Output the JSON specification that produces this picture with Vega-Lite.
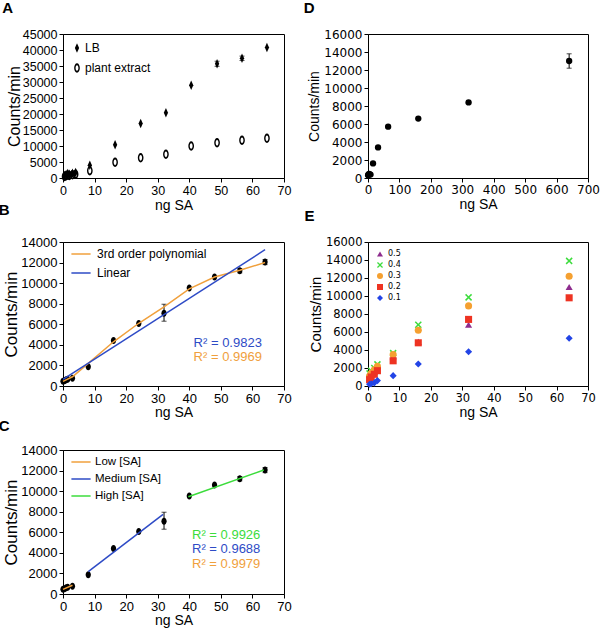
{
  "$schema": "https://vega.github.io/schema/vega-lite/v6.json",
  "padding": {"left": -2, "top": 0, "right": 5, "bottom": 5},
  "background": "white",
  "bounds": "flush",
  "columns": 2,
  "spacing": {"row": 64, "column": 84},
  "resolve": {"scale": {"color": "independent", "shape": "independent", "x": "independent", "y": "independent"}, "legend": {"color": "independent", "shape": "independent"}},
  "config": {
    "view": {"stroke": "black", "strokeWidth": 1},
    "scale": {"continuousPadding": 0},
    "axis": {"grid": false, "domainColor": "black", "tickColor": "black", "labelColor": "black", "titleColor": "black", "titleFontWeight": "normal", "labelFont": "Liberation Sans", "titleFont": "Liberation Sans", "tickSize": 4, "labelPadding": 2, "labelFlush": false, "labelOverlap": false},
    "title": {"anchor": "start", "frame": "bounds", "font": "Liberation Sans", "fontSize": 15, "fontWeight": "bold", "color": "black", "dx": -4},
    "legend": {"orient": "top-left", "title": null, "padding": 0, "labelFont": "Liberation Sans", "labelColor": "black"}
  },
  "concat": [
    {
      "width": 221, "height": 144,
      "title": {"text": "A", "offset": 12},
      "data": {"values": [
        {"g": "LB", "x": 0.5, "y": 800}, {"g": "LB", "x": 1, "y": 1100}, {"g": "LB", "x": 1.5, "y": 1400}, {"g": "LB", "x": 2, "y": 1200}, {"g": "LB", "x": 3, "y": 1500}, {"g": "LB", "x": 4, "y": 1700},
        {"g": "LB", "x": 8.5, "y": 4000}, {"g": "LB", "x": 16.5, "y": 10400}, {"g": "LB", "x": 24.6, "y": 17000}, {"g": "LB", "x": 32.6, "y": 20400}, {"g": "LB", "x": 40.6, "y": 29000}, {"g": "LB", "x": 48.8, "y": 35700, "lo": 34900, "hi": 36500}, {"g": "LB", "x": 56.7, "y": 37400, "lo": 36700, "hi": 38100}, {"g": "LB", "x": 64.6, "y": 40800},
        {"g": "plant extract", "x": 0.5, "y": 500}, {"g": "plant extract", "x": 1, "y": 700}, {"g": "plant extract", "x": 1.5, "y": 900}, {"g": "plant extract", "x": 2, "y": 800}, {"g": "plant extract", "x": 3, "y": 1000}, {"g": "plant extract", "x": 4, "y": 1200},
        {"g": "plant extract", "x": 8.5, "y": 2300}, {"g": "plant extract", "x": 16.5, "y": 4900}, {"g": "plant extract", "x": 24.6, "y": 6300}, {"g": "plant extract", "x": 32.6, "y": 7400}, {"g": "plant extract", "x": 40.6, "y": 10000}, {"g": "plant extract", "x": 48.8, "y": 11000}, {"g": "plant extract", "x": 56.7, "y": 11800}, {"g": "plant extract", "x": 64.6, "y": 12400}
      ]},
      "layer": [
        {
          "transform": [{"filter": "datum.lo != null"}],
          "mark": {"type": "errorbar", "ticks": true, "color": "black"},
          "encoding": {
            "x": {"field": "x", "type": "quantitative", "scale": {"domain": [0, 70]}, "axis": {"title": "ng SA", "values": [0,10,20,30,40,50,60,70], "labelFontSize": 12.5, "titleFontSize": 14, "titlePadding": 2}},
            "y": {"field": "lo", "type": "quantitative", "scale": {"domain": [0, 45000]}, "axis": {"title": "Counts/min", "format": "d", "values": [0,5000,10000,15000,20000,25000,30000,35000,40000,45000], "labelFontSize": 12.5, "titleFontSize": 16, "titlePadding": 0}},
            "y2": {"field": "hi"}
          }
        },
        {
          "mark": {"type": "point", "filled": true, "color": "black", "opacity": 1, "size": 90},
          "encoding": {
            "x": {"field": "x", "type": "quantitative", "scale": {"domain": [0, 70]}, "axis": {"title": "ng SA", "values": [0,10,20,30,40,50,60,70], "labelFontSize": 12.5, "titleFontSize": 14, "titlePadding": 2}},
            "y": {"field": "y", "type": "quantitative", "scale": {"domain": [0, 45000]}, "axis": {"title": "Counts/min", "format": "d", "values": [0,5000,10000,15000,20000,25000,30000,35000,40000,45000], "labelFontSize": 12.5, "titleFontSize": 16, "titlePadding": 0}},
            "shape": {"field": "g", "type": "nominal", "scale": {"domain": ["LB", "plant extract"], "range": ["M0,-1L0.45,0L0,1L-0.45,0Z", "M0,-1A0.6,1 0 1,1 0,1A0.6,1 0 1,1 0,-1ZM0,-0.6A0.3,0.6 0 1,0 0,0.6A0.3,0.6 0 1,0 0,-0.6Z"]}, "legend": {"labelFontSize": 12, "symbolSize": 90, "offset": 8, "rowPadding": 4, "labelOffset": 2, "symbolFillColor": "black", "symbolStrokeColor": "black"}}
          }
        }
      ]
    },
    {
      "width": 220, "height": 144,
      "title": {"text": "D", "offset": 12},
      "data": {"values": [
        {"x": 0.5, "y": 300}, {"x": 1, "y": 350}, {"x": 2, "y": 400}, {"x": 4, "y": 450}, {"x": 8, "y": 380},
        {"x": 16, "y": 1620}, {"x": 32, "y": 3400}, {"x": 64, "y": 5700}, {"x": 160, "y": 6600}, {"x": 320, "y": 8400}, {"x": 640, "y": 13000, "lo": 12200, "hi": 13800}
      ]},
      "layer": [
        {
          "transform": [{"filter": "datum.lo != null"}],
          "mark": {"type": "errorbar", "ticks": true, "color": "black"},
          "encoding": {
            "x": {"field": "x", "type": "quantitative", "scale": {"domain": [0, 700]}, "axis": {"title": "ng SA", "values": [0,100,200,300,400,500,600,700], "labelFont": "DejaVu Sans", "labelFontSize": 12, "titleFontSize": 14, "titlePadding": 2}},
            "y": {"field": "lo", "type": "quantitative", "scale": {"domain": [0, 16000]}, "axis": {"title": "Counts/min", "format": "d", "values": [0,2000,4000,6000,8000,10000,12000,14000,16000], "labelFont": "DejaVu Sans", "labelFontSize": 12, "titleFontSize": 14, "titlePadding": 2}},
            "y2": {"field": "hi"}
          }
        },
        {
          "mark": {"type": "circle", "color": "black", "opacity": 1, "size": 40},
          "encoding": {
            "x": {"field": "x", "type": "quantitative", "scale": {"domain": [0, 700]}, "axis": {"title": "ng SA", "values": [0,100,200,300,400,500,600,700], "labelFont": "DejaVu Sans", "labelFontSize": 12, "titleFontSize": 14, "titlePadding": 2}},
            "y": {"field": "y", "type": "quantitative", "scale": {"domain": [0, 16000]}, "axis": {"title": "Counts/min", "format": "d", "values": [0,2000,4000,6000,8000,10000,12000,14000,16000], "labelFont": "DejaVu Sans", "labelFontSize": 12, "titleFontSize": 14, "titlePadding": 2}}
          }
        }
      ]
    },
    {
      "width": 221, "height": 144,
      "title": {"text": "B", "offset": 18},
      "layer": [
        {
          "data": {"values": [
            {"x": 0, "y": 450}, {"x": 0.5, "y": 500}, {"x": 1, "y": 600}, {"x": 1.5, "y": 650}, {"x": 3, "y": 750},
            {"x": 8, "y": 1880}, {"x": 16, "y": 4420}, {"x": 24, "y": 6070}, {"x": 32, "y": 7080, "lo": 6300, "hi": 7950}, {"x": 40, "y": 9520}, {"x": 48, "y": 10590}, {"x": 56, "y": 11210, "lo": 11000, "hi": 11420}, {"x": 64, "y": 12050, "lo": 11800, "hi": 12300}
          ]},
          "layer": [
            {
              "transform": [{"filter": "datum.lo != null"}],
              "mark": {"type": "errorbar", "ticks": true, "color": "black"},
              "encoding": {
                "x": {"field": "x", "type": "quantitative", "scale": {"domain": [0, 70]}, "axis": {"title": "ng SA", "values": [0,10,20,30,40,50,60,70], "labelFontSize": 13, "titleFontSize": 14, "titlePadding": 0}},
                "y": {"field": "lo", "type": "quantitative", "scale": {"domain": [0, 14000]}, "axis": {"title": "Counts/min", "format": "d", "values": [0,2000,4000,6000,8000,10000,12000,14000], "labelFontSize": 13, "titleFontSize": 17, "titlePadding": 0}},
                "y2": {"field": "hi"}
              }
            },
            {
              "mark": {"type": "point", "filled": true, "color": "black", "opacity": 1, "size": 49, "shape": "M0,-1A0.75,1 0 1,1 0,1A0.75,1 0 1,1 0,-1Z"},
              "encoding": {
                "x": {"field": "x", "type": "quantitative", "scale": {"domain": [0, 70]}, "axis": {"title": "ng SA", "values": [0,10,20,30,40,50,60,70], "labelFontSize": 13, "titleFontSize": 14, "titlePadding": 0}},
                "y": {"field": "y", "type": "quantitative", "scale": {"domain": [0, 14000]}, "axis": {"title": "Counts/min", "format": "d", "values": [0,2000,4000,6000,8000,10000,12000,14000], "labelFontSize": 13, "titleFontSize": 17, "titlePadding": 0}}
              }
            }
          ]
        },
        {
          "data": {"values": [
            {"s": "3rd order polynomial", "x": 0, "y": 450}, {"s": "3rd order polynomial", "x": 3, "y": 900}, {"s": "3rd order polynomial", "x": 8, "y": 2200}, {"s": "3rd order polynomial", "x": 16, "y": 4300}, {"s": "3rd order polynomial", "x": 24, "y": 6100}, {"s": "3rd order polynomial", "x": 32, "y": 7700}, {"s": "3rd order polynomial", "x": 40, "y": 9450}, {"s": "3rd order polynomial", "x": 48, "y": 10600}, {"s": "3rd order polynomial", "x": 56, "y": 11250}, {"s": "3rd order polynomial", "x": 64, "y": 12000},
            {"s": "Linear", "x": 0, "y": 650}, {"s": "Linear", "x": 64, "y": 13250}
          ]},
          "mark": {"type": "line", "strokeWidth": 1.5},
          "encoding": {
            "x": {"field": "x", "type": "quantitative", "scale": {"domain": [0, 70]}, "axis": {"title": "ng SA", "values": [0,10,20,30,40,50,60,70], "labelFontSize": 13, "titleFontSize": 14, "titlePadding": 0}},
            "y": {"field": "y", "type": "quantitative", "scale": {"domain": [0, 14000]}, "axis": {"title": "Counts/min", "format": "d", "values": [0,2000,4000,6000,8000,10000,12000,14000], "labelFontSize": 13, "titleFontSize": 17, "titlePadding": 0}},
            "color": {"field": "s", "type": "nominal", "scale": {"domain": ["3rd order polynomial", "Linear"], "range": ["#F0A03C", "#2E4BC6"]}, "legend": {"symbolType": "M-0.6,0H2.6", "symbolSize": 144, "symbolStrokeWidth": 1.5, "labelFontSize": 12, "labelOffset": 15, "rowPadding": 6, "offset": 5}}
          }
        },
        {
          "data": {"values": [
            {"s": "Linear", "label": "R² = 0.9823", "x": 63, "y": 4150},
            {"s": "3rd order polynomial", "label": "R² = 0.9969", "x": 63, "y": 2800}
          ]},
          "mark": {"type": "text", "align": "right", "baseline": "middle", "font": "Liberation Sans", "fontSize": 13},
          "encoding": {
            "x": {"field": "x", "type": "quantitative", "scale": {"domain": [0, 70]}, "axis": {"title": "ng SA", "values": [0,10,20,30,40,50,60,70], "labelFontSize": 13, "titleFontSize": 14, "titlePadding": 0}},
            "y": {"field": "y", "type": "quantitative", "scale": {"domain": [0, 14000]}, "axis": {"title": "Counts/min", "format": "d", "values": [0,2000,4000,6000,8000,10000,12000,14000], "labelFontSize": 13, "titleFontSize": 17, "titlePadding": 0}},
            "text": {"field": "label"},
            "color": {"field": "s", "type": "nominal", "scale": {"domain": ["3rd order polynomial", "Linear"], "range": ["#F0A03C", "#2E4BC6"]}, "legend": null}
          }
        }
      ]
    },
    {
      "width": 220, "height": 144,
      "title": {"text": "E", "offset": 12},
      "data": {"values": [
        {"c": "0.5", "x": 0.5, "y": 900}, {"c": "0.5", "x": 1, "y": 1200}, {"c": "0.5", "x": 2, "y": 1600}, {"c": "0.5", "x": 3, "y": 2200}, {"c": "0.5", "x": 8, "y": 3300}, {"c": "0.5", "x": 16, "y": 4900}, {"c": "0.5", "x": 32, "y": 6800}, {"c": "0.5", "x": 64, "y": 11000},
        {"c": "0.4", "x": 0.5, "y": 1400}, {"c": "0.4", "x": 1, "y": 1700}, {"c": "0.4", "x": 2, "y": 2000}, {"c": "0.4", "x": 3, "y": 2400}, {"c": "0.4", "x": 8, "y": 3650}, {"c": "0.4", "x": 16, "y": 6800}, {"c": "0.4", "x": 32, "y": 9850}, {"c": "0.4", "x": 64, "y": 13900},
        {"c": "0.3", "x": 0.5, "y": 1100}, {"c": "0.3", "x": 1, "y": 1400}, {"c": "0.3", "x": 2, "y": 1800}, {"c": "0.3", "x": 3, "y": 2200}, {"c": "0.3", "x": 8, "y": 3500}, {"c": "0.3", "x": 16, "y": 6200}, {"c": "0.3", "x": 32, "y": 8900}, {"c": "0.3", "x": 64, "y": 12200},
        {"c": "0.2", "x": 0.5, "y": 700}, {"c": "0.2", "x": 1, "y": 1000}, {"c": "0.2", "x": 2, "y": 1300}, {"c": "0.2", "x": 3, "y": 1700}, {"c": "0.2", "x": 8, "y": 2800}, {"c": "0.2", "x": 16, "y": 4800}, {"c": "0.2", "x": 32, "y": 7400}, {"c": "0.2", "x": 64, "y": 9800},
        {"c": "0.1", "x": 0.5, "y": 200}, {"c": "0.1", "x": 1, "y": 250}, {"c": "0.1", "x": 2, "y": 350}, {"c": "0.1", "x": 3, "y": 600}, {"c": "0.1", "x": 8, "y": 1150}, {"c": "0.1", "x": 16, "y": 2450}, {"c": "0.1", "x": 32, "y": 3800}, {"c": "0.1", "x": 64, "y": 5300}
      ]},
      "mark": {"type": "point", "filled": true, "opacity": 1, "size": 50},
      "encoding": {
        "x": {"field": "x", "type": "quantitative", "scale": {"domain": [0, 70]}, "axis": {"title": "ng SA", "values": [0,10,20,30,40,50,60,70], "labelFont": "DejaVu Sans", "labelFontSize": 11.5, "titleFontSize": 14, "titlePadding": 2}},
        "y": {"field": "y", "type": "quantitative", "scale": {"domain": [0, 16000]}, "axis": {"title": "Counts/min", "format": "d", "values": [0,2000,4000,6000,8000,10000,12000,14000,16000], "labelFont": "DejaVu Sans", "labelFontSize": 11.5, "titleFontSize": 15, "titlePadding": 2}},
        "color": {"field": "c", "type": "nominal", "scale": {"domain": ["0.5", "0.4", "0.3", "0.2", "0.1"], "range": ["#8E2C8E", "#3DDC3D", "#F5A030", "#EE3322", "#2244E6"]}, "legend": {"labelFont": "DejaVu Sans", "labelFontSize": 8, "symbolSize": 36, "rowPadding": 3, "offset": 8}},
        "shape": {"field": "c", "type": "nominal", "scale": {"domain": ["0.5", "0.4", "0.3", "0.2", "0.1"], "range": ["triangle-up", "M-1,-0.7L-0.7,-1L0,-0.3L0.7,-1L1,-0.7L0.3,0L1,0.7L0.7,1L0,0.3L-0.7,1L-1,0.7L-0.3,0Z", "circle", "square", "diamond"]}}
      }
    },
    {
      "width": 221, "height": 144,
      "title": {"text": "C", "offset": 10},
      "layer": [
        {
          "data": {"values": [
            {"x": 0, "y": 450}, {"x": 0.5, "y": 500}, {"x": 1, "y": 600}, {"x": 1.5, "y": 650}, {"x": 3, "y": 750},
            {"x": 8, "y": 1880}, {"x": 16, "y": 4420}, {"x": 24, "y": 6070}, {"x": 32, "y": 7080, "lo": 6300, "hi": 7950}, {"x": 40, "y": 9520}, {"x": 48, "y": 10590}, {"x": 56, "y": 11210, "lo": 11000, "hi": 11420}, {"x": 64, "y": 12050, "lo": 11800, "hi": 12300}
          ]},
          "layer": [
            {
              "transform": [{"filter": "datum.lo != null"}],
              "mark": {"type": "errorbar", "ticks": true, "color": "black"},
              "encoding": {
                "x": {"field": "x", "type": "quantitative", "scale": {"domain": [0, 70]}, "axis": {"title": "ng SA", "values": [0,10,20,30,40,50,60,70], "labelFontSize": 13, "titleFontSize": 14, "titlePadding": 0}},
                "y": {"field": "lo", "type": "quantitative", "scale": {"domain": [0, 14000]}, "axis": {"title": "Counts/min", "format": "d", "values": [0,2000,4000,6000,8000,10000,12000,14000], "labelFontSize": 13, "titleFontSize": 17, "titlePadding": 0}},
                "y2": {"field": "hi"}
              }
            },
            {
              "mark": {"type": "point", "filled": true, "color": "black", "opacity": 1, "size": 49, "shape": "M0,-1A0.75,1 0 1,1 0,1A0.75,1 0 1,1 0,-1Z"},
              "encoding": {
                "x": {"field": "x", "type": "quantitative", "scale": {"domain": [0, 70]}, "axis": {"title": "ng SA", "values": [0,10,20,30,40,50,60,70], "labelFontSize": 13, "titleFontSize": 14, "titlePadding": 0}},
                "y": {"field": "y", "type": "quantitative", "scale": {"domain": [0, 14000]}, "axis": {"title": "Counts/min", "format": "d", "values": [0,2000,4000,6000,8000,10000,12000,14000], "labelFontSize": 13, "titleFontSize": 17, "titlePadding": 0}}
              }
            }
          ]
        },
        {
          "data": {"values": [
            {"s": "Low [SA]", "x": 0, "y": 450}, {"s": "Low [SA]", "x": 3, "y": 850},
            {"s": "Medium [SA]", "x": 8, "y": 2170}, {"s": "Medium [SA]", "x": 31.7, "y": 7750},
            {"s": "High [SA]", "x": 39.7, "y": 9450}, {"s": "High [SA]", "x": 63.6, "y": 12050}
          ]},
          "mark": {"type": "line", "strokeWidth": 1.5},
          "encoding": {
            "x": {"field": "x", "type": "quantitative", "scale": {"domain": [0, 70]}, "axis": {"title": "ng SA", "values": [0,10,20,30,40,50,60,70], "labelFontSize": 13, "titleFontSize": 14, "titlePadding": 0}},
            "y": {"field": "y", "type": "quantitative", "scale": {"domain": [0, 14000]}, "axis": {"title": "Counts/min", "format": "d", "values": [0,2000,4000,6000,8000,10000,12000,14000], "labelFontSize": 13, "titleFontSize": 17, "titlePadding": 0}},
            "color": {"field": "s", "type": "nominal", "scale": {"domain": ["Low [SA]", "Medium [SA]", "High [SA]"], "range": ["#F0A03C", "#2E4BC6", "#3CDC3C"]}, "legend": {"symbolType": "M-0.6,0H2.6", "symbolSize": 144, "symbolStrokeWidth": 1.5, "labelFontSize": 11.5, "labelOffset": 13, "rowPadding": 4, "offset": 5}}
          }
        },
        {
          "data": {"values": [
            {"s": "High [SA]", "label": "R² = 0.9926", "x": 62.5, "y": 5750},
            {"s": "Medium [SA]", "label": "R² = 0.9688", "x": 62.5, "y": 4350},
            {"s": "Low [SA]", "label": "R² = 0.9979", "x": 62.5, "y": 2930}
          ]},
          "mark": {"type": "text", "align": "right", "baseline": "middle", "font": "Liberation Sans", "fontSize": 13},
          "encoding": {
            "x": {"field": "x", "type": "quantitative", "scale": {"domain": [0, 70]}, "axis": {"title": "ng SA", "values": [0,10,20,30,40,50,60,70], "labelFontSize": 13, "titleFontSize": 14, "titlePadding": 0}},
            "y": {"field": "y", "type": "quantitative", "scale": {"domain": [0, 14000]}, "axis": {"title": "Counts/min", "format": "d", "values": [0,2000,4000,6000,8000,10000,12000,14000], "labelFontSize": 13, "titleFontSize": 17, "titlePadding": 0}},
            "text": {"field": "label"},
            "color": {"field": "s", "type": "nominal", "scale": {"domain": ["Low [SA]", "Medium [SA]", "High [SA]"], "range": ["#F0A03C", "#2E4BC6", "#3CDC3C"]}, "legend": null}
          }
        }
      ]
    }
  ]
}
